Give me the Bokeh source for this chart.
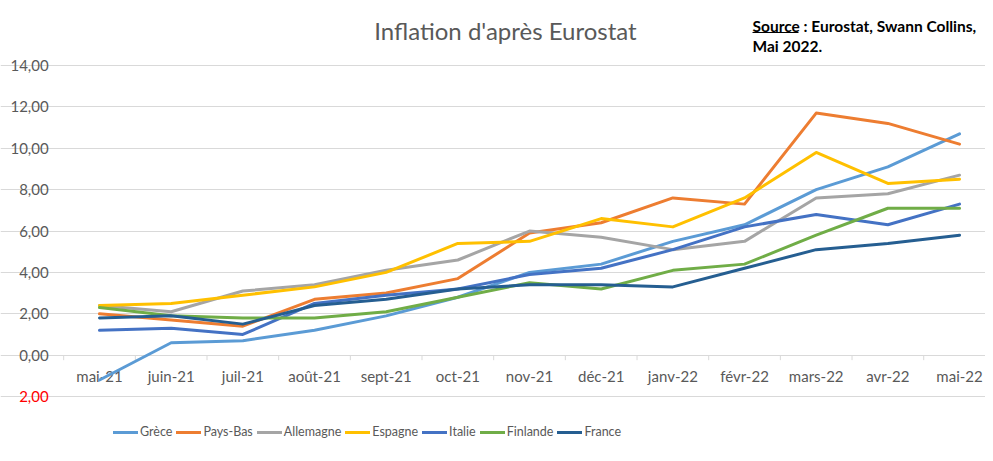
from bokeh.plotting import figure
from bokeh.models import (Range1d, FixedTicker, Legend, LegendItem, Label, Grid,
                          ColumnDataSource)
from bokeh.embed import file_html
from bokeh.resources import INLINE
from bokeh.core.properties import value

months = ["mai-21", "juin-21", "juil-21", "août-21", "sept-21", "oct-21", "nov-21",
          "déc-21", "janv-22", "févr-22", "mars-22", "avr-22", "mai-22"]
grece = [-1.2, 0.6, 0.7, 1.2, 1.9, 2.8, 4.0, 4.4, 5.5, 6.3, 8.0, 9.1, 10.7]
pays_bas = [2.0, 1.7, 1.4, 2.7, 3.0, 3.7, 5.9, 6.4, 7.6, 7.3, 11.7, 11.2, 10.2]
allemagne = [2.4, 2.1, 3.1, 3.4, 4.1, 4.6, 6.0, 5.7, 5.1, 5.5, 7.6, 7.8, 8.7]
espagne = [2.4, 2.5, 2.9, 3.3, 4.0, 5.4, 5.5, 6.6, 6.2, 7.6, 9.8, 8.3, 8.5]
italie = [1.2, 1.3, 1.0, 2.5, 2.9, 3.2, 3.9, 4.2, 5.1, 6.2, 6.8, 6.3, 7.3]
finlande = [2.3, 1.9, 1.8, 1.8, 2.1, 2.8, 3.5, 3.2, 4.1, 4.4, 5.8, 7.1, 7.1]
france = [1.8, 1.9, 1.5, 2.4, 2.7, 3.2, 3.4, 3.4, 3.3, 4.2, 5.1, 5.4, 5.8]

series_names = ["Grèce", "Pays-Bas", "Allemagne", "Espagne", "Italie", "Finlande", "France"]
series_values = [grece, pays_bas, allemagne, espagne, italie, finlande, france]
series_colors = ["#5B9BD5", "#ED7D31", "#A5A5A5", "#FFC000", "#4472C4", "#70AD47", "#255E91"]

y_ticks = [-2, 0, 2, 4, 6, 8, 10, 12, 14]
y_tick_labels = ["2,00", "0,00", "2,00", "4,00", "6,00", "8,00", "10,00", "12,00", "14,00"]

title_text = "Inflation d'après Eurostat"
source_word = "Source"
source_rest = " : Eurostat, Swann Collins,"
source_line2 = "Mai 2022."

FONT = "Lato"
GREY = "#595959"
GRID = "#D9D9D9"
NEG = "#FF0000"

# ---- layout geometry (pixels in the picture) ----
W, H = 985, 453
PX_X0, PX_Y0 = 0, 0            # picture position of the figure
CAT_PX0, CAT_STEP = 99, 71.67  # first category centre, category width
Y14_PX, Y_PX_PER = 65, 20.69   # pixel of the 14 gridline, pixels per unit

x_start = -(CAT_PX0 - PX_X0) / CAT_STEP
x_end = x_start + W / CAT_STEP
y_end = 14 + (Y14_PX - PX_Y0) / Y_PX_PER
y_start = y_end - H / Y_PX_PER


def X(px):
    return x_start + (px - PX_X0) / CAT_STEP


def Y(py):
    return y_end - (py - PX_Y0) / Y_PX_PER


x_idx = list(range(len(months)))
plot_left = -0.5

p = figure(width=W, height=H, output_backend="svg", toolbar_location=None,
           x_range=Range1d(x_start, x_end), y_range=Range1d(y_start, y_end),
           min_border=0)
p.outline_line_color = None
p.background_fill_color = "white"
p.border_fill_color = "white"
p.xaxis.visible = False
p.yaxis.visible = False
p.xgrid.visible = False
p.ygrid.visible = False

# horizontal gridlines (the 0 line doubles as the category axis)
p.add_layout(Grid(dimension=1, ticker=FixedTicker(ticks=y_ticks), bounds=(plot_left, x_end),
                  grid_line_color=GRID, grid_line_width=1))

# category-boundary tick marks under the zero line
boundaries = [i - 0.5 for i in x_idx] + [x_idx[-1] + 0.5]
tick_len = 5 / Y_PX_PER
p.segment(x0=boundaries, y0=[0] * len(boundaries), x1=boundaries,
          y1=[-tick_len] * len(boundaries), line_color=GRID, line_width=1)

# y tick labels
p.text(x=[plot_left] * len(y_ticks), y=y_ticks, text=y_tick_labels,
       x_offset=-15, text_align="right", text_baseline="middle",
       text_font=value(FONT), text_font_size="15px",
       text_color=[NEG if t < 0 else GREY for t in y_ticks])

# x category labels under the zero line
p.text(x=x_idx, y=[0] * len(x_idx), text=months, y_offset=21,
       text_align="center", text_baseline="middle",
       text_font=value(FONT), text_font_size="15px", text_color=GREY)

items = []
for name, vals, col in zip(series_names, series_values, series_colors):
    src = ColumnDataSource(dict(x=x_idx, y=vals))
    r = p.line("x", "y", source=src, line_color=col, line_width=3, line_join="round",
               line_cap="round")
    items.append(LegendItem(label=name, renderers=[r]))

legend = Legend(items=items, orientation="horizontal",
                location=(113 - PX_X0, (PX_Y0 + H) - 439))
legend.border_line_color = None
legend.background_fill_alpha = 0
legend.label_text_font = FONT
legend.label_text_font_size = "12.5px"
legend.label_text_color = GREY
legend.glyph_width = 25
legend.glyph_height = 14
legend.label_height = 14
legend.label_standoff = 2
legend.spacing = 4
legend.padding = 0
legend.margin = 0
p.add_layout(legend, "center")

# title
p.add_layout(Label(x=X(505), y=Y(30), text=title_text, text_align="center",
                   text_baseline="middle", text_font=FONT, text_font_size="24px",
                   text_color=GREY))

# source note
src_kw = dict(text_font=FONT, text_font_size="15.5px", text_font_style="bold",
              text_color="#000000", text_baseline="middle")
p.add_layout(Label(x=X(752), y=Y(25), text=source_word + source_rest, **src_kw))
p.add_layout(Label(x=X(752), y=Y(45), text=source_line2, **src_kw))
p.segment(x0=[X(752)], y0=[Y(32)], x1=[X(798)], y1=[Y(32)], line_color="#000000", line_width=1)

open("out.html", "w").write(file_html(p, INLINE))
